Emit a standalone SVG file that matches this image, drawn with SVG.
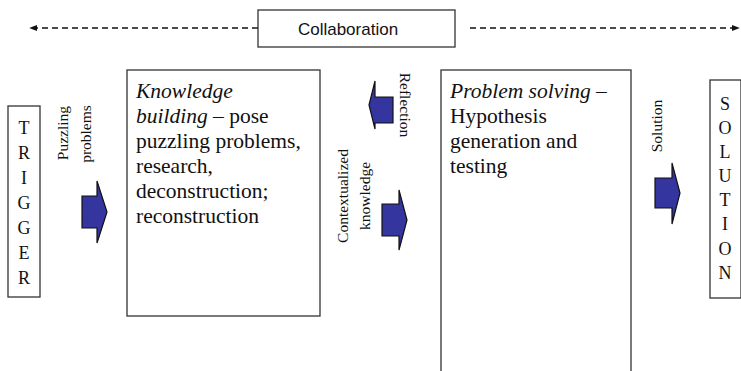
<svg xmlns="http://www.w3.org/2000/svg" width="741" height="371" viewBox="0 0 741 371">
  <style>
    .box { fill: #ffffff; stroke: #333333; stroke-width: 1.3; }
    .serif { font-family: "Liberation Serif", "Times New Roman", serif; fill: #111111; }
    .sans { font-family: "Liberation Sans", Arial, sans-serif; fill: #111111; }
    .body { font-size: 21.5px; }
    .label { font-size: 15.5px; }
    .letter { font-size: 18px; text-anchor: middle; }
    .dash { stroke: #111111; stroke-width: 1.4; stroke-dasharray: 6 4; fill: none; }
    .block { fill: #3535a0; stroke: #111111; stroke-width: 1.2; stroke-linejoin: miter; }
  </style>
  <defs>
    <marker id="tip" viewBox="0 0 10 10" refX="9" refY="5" markerWidth="8" markerHeight="8" orient="auto-start-reverse" markerUnits="userSpaceOnUse">
      <path d="M0,1 L10,5 L0,9 Z" fill="#111111"/>
    </marker>
  </defs>

  <!-- collaboration banner -->
  <g id="collaboration">
    <rect class="box" x="258" y="10" width="197" height="37"/>
    <text class="sans" x="348" y="35" font-size="17" text-anchor="middle">Collaboration</text>
  </g>

  <!-- trigger column -->
  <g id="trigger">
    <rect class="box" x="8" y="106" width="32" height="191"/>
    <text class="serif letter" x="24"><tspan x="24" y="134">T</tspan><tspan x="24" y="159">R</tspan><tspan x="24" y="184">I</tspan><tspan x="24" y="209">G</tspan><tspan x="24" y="234">G</tspan><tspan x="24" y="259">E</tspan><tspan x="24" y="284">R</tspan></text>
  </g>

  <!-- knowledge building stage -->
  <g id="knowledge-building">
    <rect class="box" x="127" y="70" width="193" height="246"/>
    <text class="serif body">
      <tspan x="136" y="98" font-style="italic">Knowledge</tspan>
      <tspan x="136" y="123"><tspan font-style="italic">building</tspan> – pose</tspan>
      <tspan x="136" y="148">puzzling problems,</tspan>
      <tspan x="136" y="173">research,</tspan>
      <tspan x="136" y="198">deconstruction;</tspan>
      <tspan x="136" y="223">reconstruction</tspan>
    </text>
  </g>

  <!-- problem solving stage -->
  <g id="problem-solving">
    <rect class="box" x="441" y="70" width="190" height="310"/>
    <text class="serif body">
      <tspan x="450" y="98" font-style="italic">Problem solving –</tspan>
      <tspan x="450" y="123">Hypothesis</tspan>
      <tspan x="450" y="148">generation and</tspan>
      <tspan x="450" y="173">testing</tspan>
    </text>
  </g>

  <!-- solution column -->
  <g id="solution">
    <rect class="box" x="710" y="80" width="31" height="218"/>
    <text class="serif letter" x="725"><tspan x="725" y="110">S</tspan><tspan x="725" y="134">O</tspan><tspan x="725" y="158">L</tspan><tspan x="725" y="182">U</tspan><tspan x="725" y="206">T</tspan><tspan x="725" y="230">I</tspan><tspan x="725" y="255">O</tspan><tspan x="725" y="279">N</tspan></text>
  </g>

  <!-- connectors: dashed collaboration line and block arrows with their labels -->
  <g id="connectors">
    <line class="dash" x1="258" y1="28" x2="30" y2="28" marker-end="url(#tip)"/>
    <line class="dash" x1="470" y1="28" x2="739" y2="28" marker-end="url(#tip)"/>

    <path class="block" d="M82,196 H97 V181 L107,212 L97,243 V228 H82 Z"/>
    <text class="serif label" transform="translate(68,133) rotate(-90)" text-anchor="middle">Puzzling</text>
    <text class="serif label" transform="translate(91,134) rotate(-90)" text-anchor="middle">problems</text>

    <path class="block" d="M393,97 H375 V81 L369,105 L375,129 V123 H393 Z"/>
    <text class="serif label" transform="translate(400,105) rotate(90)" text-anchor="middle">Reflection</text>

    <path class="block" d="M382,204 H399 V190 L407,220 L399,250 V236 H382 Z"/>
    <text class="serif label" transform="translate(348,196) rotate(-90)" text-anchor="middle">Contextualized</text>
    <text class="serif label" transform="translate(370,196) rotate(-90)" text-anchor="middle">knowledge</text>

    <path class="block" d="M655,178 H672 V163 L680,193 L672,224 V208 H655 Z"/>
    <text class="serif label" transform="translate(662,126) rotate(-90)" text-anchor="middle">Solution</text>
  </g>
</svg>
